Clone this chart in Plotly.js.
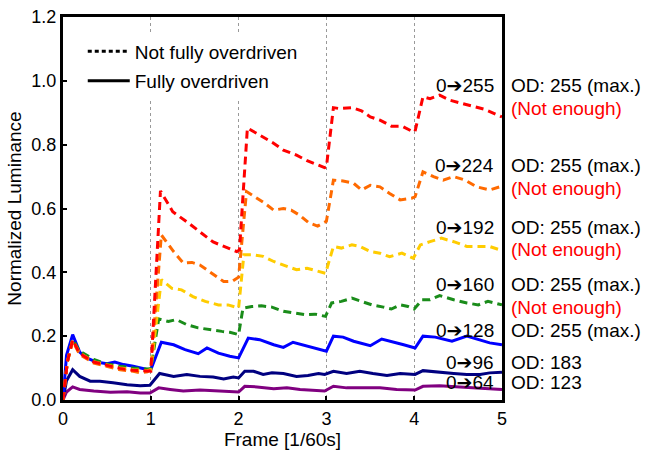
<!DOCTYPE html>
<html>
<head>
<meta charset="utf-8">
<script src="https://cdn.plot.ly/plotly-3.0.1.min.js"></script>
<style>
  html, body { margin: 0; padding: 0; background: #fff; }
  #chart { width: 645px; height: 450px; }
</style>
</head>
<body>
<div id="chart"></div>
<script>
// ---- Data ----
const redX = [0, 0.05, 0.11, 0.19, 0.35, 0.5, 0.65, 0.8, 0.95, 1.0, 1.11, 1.25, 1.45, 1.71, 1.98, 2.01, 2.1, 2.28, 2.39, 2.51, 2.66, 2.78, 2.98, 3.0, 3.08, 3.15, 3.29, 3.40, 3.50, 3.61, 3.74, 3.86, 3.99, 4.01, 4.10, 4.18, 4.29, 4.41, 4.52, 4.67, 4.81, 5.0];
const redY = [0, 0.12, 0.188, 0.146, 0.119, 0.108, 0.099, 0.093, 0.089, 0.09, 0.655, 0.59, 0.55, 0.495, 0.465, 0.47, 0.852, 0.824, 0.806, 0.783, 0.767, 0.75, 0.728, 0.73, 0.916, 0.913, 0.916, 0.906, 0.887, 0.877, 0.858, 0.858, 0.84, 0.842, 0.95, 0.944, 0.955, 0.939, 0.931, 0.918, 0.91, 0.887];

const orangeX = [0, 0.05, 0.11, 0.19, 0.35, 0.5, 0.65, 0.8, 0.88, 0.96, 1.0, 1.12, 1.26, 1.37, 1.47, 1.56, 1.69, 1.83, 1.93, 2.0, 2.09, 2.21, 2.30, 2.40, 2.51, 2.6, 2.7, 2.8, 2.9, 3.0, 3.08, 3.19, 3.31, 3.40, 3.50, 3.61, 3.72, 3.84, 3.97, 4.01, 4.10, 4.22, 4.33, 4.45, 4.58, 4.71, 4.86, 5.0];
const orangeY = [0, 0.12, 0.185, 0.142, 0.116, 0.106, 0.095, 0.09, 0.085, 0.088, 0.095, 0.517, 0.465, 0.429, 0.431, 0.423, 0.397, 0.371, 0.372, 0.385, 0.653, 0.632, 0.616, 0.595, 0.6, 0.595, 0.578, 0.555, 0.545, 0.56, 0.689, 0.686, 0.679, 0.658, 0.673, 0.668, 0.647, 0.627, 0.632, 0.637, 0.715, 0.7, 0.689, 0.7, 0.689, 0.668, 0.658, 0.67];

const yellowX = [0, 0.05, 0.11, 0.19, 0.35, 0.5, 0.65, 0.8, 0.95, 1.0, 1.12, 1.24, 1.35, 1.48, 1.62, 1.77, 1.88, 2.0, 2.06, 2.17, 2.28, 2.40, 2.51, 2.66, 2.78, 2.91, 2.99, 3.08, 3.17, 3.29, 3.38, 3.50, 3.61, 3.72, 3.86, 3.99, 4.07, 4.18, 4.31, 4.45, 4.60, 4.75, 4.86, 5.0];
const yellowY = [0, 0.12, 0.187, 0.147, 0.12, 0.11, 0.1, 0.095, 0.092, 0.095, 0.377, 0.35, 0.345, 0.324, 0.309, 0.298, 0.298, 0.288, 0.455, 0.455, 0.45, 0.434, 0.423, 0.408, 0.413, 0.402, 0.397, 0.481, 0.476, 0.486, 0.481, 0.465, 0.46, 0.449, 0.46, 0.444, 0.486, 0.496, 0.507, 0.496, 0.481, 0.481, 0.481, 0.468];

const greenX = [0, 0.05, 0.11, 0.19, 0.35, 0.5, 0.65, 0.8, 0.95, 1.0, 1.09, 1.20, 1.29, 1.41, 1.54, 1.67, 1.81, 1.90, 2.0, 2.05, 2.15, 2.26, 2.38, 2.51, 2.64, 2.76, 2.87, 2.99, 3.06, 3.17, 3.29, 3.40, 3.52, 3.65, 3.74, 3.84, 3.93, 4.0, 4.09, 4.18, 4.29, 4.45, 4.60, 4.73, 4.84, 5.0];
const greenY = [0, 0.12, 0.19, 0.153, 0.127, 0.113, 0.106, 0.1, 0.097, 0.098, 0.254, 0.246, 0.252, 0.236, 0.226, 0.22, 0.215, 0.212, 0.205, 0.288, 0.293, 0.295, 0.291, 0.278, 0.272, 0.267, 0.269, 0.262, 0.304, 0.309, 0.319, 0.309, 0.298, 0.291, 0.285, 0.298, 0.293, 0.285, 0.314, 0.314, 0.327, 0.314, 0.304, 0.298, 0.309, 0.298];

const blueX = [0, 0.04, 0.11, 0.19, 0.27, 0.38, 0.50, 0.59, 0.69, 0.80, 0.97, 1.0, 1.12, 1.26, 1.39, 1.54, 1.64, 1.77, 1.90, 2.0, 2.11, 2.24, 2.40, 2.51, 2.62, 2.76, 2.89, 3.0, 3.08, 3.19, 3.31, 3.50, 3.63, 3.74, 3.88, 4.01, 4.10, 4.24, 4.43, 4.60, 4.73, 4.86, 5.0];
const blueY = [0, 0.14, 0.205, 0.15, 0.132, 0.119, 0.114, 0.119, 0.111, 0.106, 0.095, 0.095, 0.181, 0.173, 0.158, 0.145, 0.163, 0.147, 0.137, 0.132, 0.194, 0.189, 0.173, 0.165, 0.181, 0.17, 0.16, 0.153, 0.2, 0.197, 0.184, 0.17, 0.191, 0.184, 0.173, 0.163, 0.2, 0.197, 0.184, 0.2, 0.189, 0.179, 0.173];

const navyX = [0, 0.04, 0.11, 0.19, 0.31, 0.42, 0.57, 0.73, 0.88, 0.99, 1.10, 1.26, 1.41, 1.56, 1.71, 1.83, 1.94, 2.0, 2.07, 2.17, 2.28, 2.38, 2.51, 2.66, 2.79, 2.91, 2.98, 3.08, 3.23, 3.38, 3.53, 3.69, 3.84, 4.01, 4.10, 4.26, 4.45, 4.60, 4.75, 4.86, 5.0];
const navyY = [0, 0.06, 0.095, 0.074, 0.059, 0.059, 0.054, 0.048, 0.045, 0.046, 0.083, 0.074, 0.08, 0.074, 0.072, 0.066, 0.072, 0.069, 0.09, 0.09, 0.08, 0.085, 0.083, 0.074, 0.077, 0.083, 0.08, 0.09, 0.083, 0.09, 0.083, 0.077, 0.083, 0.08, 0.092, 0.087, 0.083, 0.08, 0.08, 0.085, 0.087];

const purpleX = [0, 0.04, 0.11, 0.19, 0.35, 0.54, 0.73, 0.88, 0.99, 1.09, 1.22, 1.37, 1.56, 1.75, 1.94, 2.0, 2.07, 2.21, 2.40, 2.55, 2.70, 2.85, 2.98, 3.08, 3.23, 3.42, 3.61, 3.80, 4.01, 4.10, 4.29, 4.52, 4.75, 5.0];
const purpleY = [0, 0.025, 0.041, 0.033, 0.028, 0.024, 0.026, 0.022, 0.022, 0.038, 0.033, 0.028, 0.031, 0.028, 0.026, 0.025, 0.043, 0.041, 0.035, 0.038, 0.033, 0.031, 0.028, 0.043, 0.038, 0.038, 0.038, 0.033, 0.031, 0.043, 0.045, 0.041, 0.038, 0.033];

const transitions = ['0<b>\u2794</b>255', '0<b>\u2794</b>224', '0<b>\u2794</b>192', '0<b>\u2794</b>160', '0<b>\u2794</b>128', '0<b>\u2794</b>96', '0<b>\u2794</b>64'];
const odLabels = ['OD: 255 (max.)', 'OD: 255 (max.)', 'OD: 255 (max.)', 'OD: 255 (max.)', 'OD: 255 (max.)', 'OD: 183', 'OD: 123'];
const notEnough = [true, true, true, true, false, false, false];
const legendNames = ['Not fully overdriven', 'Fully overdriven'];
const xTicks = [0, 1, 2, 3, 4, 5];
const yTicks = [0, 0.2, 0.4, 0.6, 0.8, 1.0, 1.2];

// ---- Styling ----
const FONT = 'Liberation Sans, Arial, DejaVu Sans, sans-serif';
const DASH = '8px,5px';
const series = [
  {x: redX, y: redY, color: '#FF0000', dash: DASH},
  {x: orangeX, y: orangeY, color: '#FF6A00', dash: DASH},
  {x: yellowX, y: yellowY, color: '#FFCC00', dash: DASH},
  {x: greenX, y: greenY, color: '#1A8C1A', dash: DASH},
  {x: blueX, y: blueY, color: '#0000FF', dash: 'solid'},
  {x: navyX, y: navyY, color: '#000080', dash: 'solid'},
  {x: purpleX, y: purpleY, color: '#800080', dash: 'solid'}
];

const traces = series.slice().reverse().map(s => ({
  x: s.x, y: s.y, type: 'scatter', mode: 'lines',
  line: {color: s.color, width: 3, dash: s.dash},
  showlegend: false, hoverinfo: 'skip'
}));
traces.push({x: [null], y: [null], type: 'scatter', mode: 'lines', name: legendNames[0],
  legendgroup: 'g1', line: {color: '#000', width: 3, dash: '4px,3px'}, showlegend: true});
traces.push({x: [null], y: [null], type: 'scatter', mode: 'lines', name: legendNames[1],
  legendgroup: 'g2', line: {color: '#000', width: 3, dash: 'solid'}, showlegend: true});

// label y positions (in data units)
const labelY = [0.986, 0.736, 0.539, 0.361, 0.217, 0.118, 0.055];
const notEnoughY = [0.914, 0.664, 0.470, 0.289];
const LBL = 19;

const annotations = [];
transitions.forEach((t, i) => {
  annotations.push({xref: 'paper', yref: 'y', x: 0.986, y: labelY[i], text: t,
    xanchor: 'right', yanchor: 'middle', showarrow: false,
    font: {family: FONT, size: LBL, color: '#000'}});
  annotations.push({xref: 'paper', yref: 'y', x: 1.017, y: labelY[i], text: odLabels[i],
    xanchor: 'left', yanchor: 'middle', showarrow: false,
    font: {family: FONT, size: LBL, color: '#000'}});
});
notEnough.forEach((ne, i) => {
  if (ne) annotations.push({xref: 'paper', yref: 'y', x: 1.017, y: notEnoughY[i], text: '(Not enough)',
    xanchor: 'left', yanchor: 'middle', showarrow: false,
    font: {family: FONT, size: LBL, color: '#FF0000'}});
});

const layout = {
  width: 645, height: 450,
  margin: {l: 63, r: 143, t: 17, b: 50},
  paper_bgcolor: '#fff', plot_bgcolor: '#fff',
  font: {family: FONT, size: 18, color: '#000'},
  xaxis: {
    range: [0, 5], tickvals: xTicks, ticktext: xTicks.map(String),
    showgrid: true, gridcolor: '#999', griddash: 'dot', gridwidth: 1,
    zeroline: false, showline: true, linecolor: '#000', linewidth: 3, mirror: true,
    ticks: 'inside', ticklen: 4, tickwidth: 2, tickcolor: '#000',
    tickfont: {family: FONT, size: 18, color: '#000'},
    title: {text: 'Frame [1/60s]', font: {family: FONT, size: 19, color: '#000'}, standoff: 6}
  },
  yaxis: {
    range: [0, 1.2], tickvals: yTicks, ticktext: yTicks.map(v => v.toFixed(1)),
    showgrid: false, zeroline: false, showline: true, linecolor: '#000', linewidth: 3, mirror: true,
    ticks: 'inside', ticklen: 4, tickwidth: 2, tickcolor: '#000',
    tickfont: {family: FONT, size: 18, color: '#000'},
    title: {text: 'Normalized Luminance', font: {family: FONT, size: 19, color: '#000'}, standoff: 5}
  },
  legend: {
    x: 0.045, y: 0.96, xanchor: 'left', yanchor: 'top',
    bgcolor: '#fff', borderwidth: 0, itemwidth: 42, tracegroupgap: 2,
    font: {family: FONT, size: 19, color: '#000'}
  },
  annotations: annotations,
  showlegend: true
};

Plotly.newPlot('chart', traces, layout, {displayModeBar: false, staticPlot: true});
</script>
</body>
</html>
